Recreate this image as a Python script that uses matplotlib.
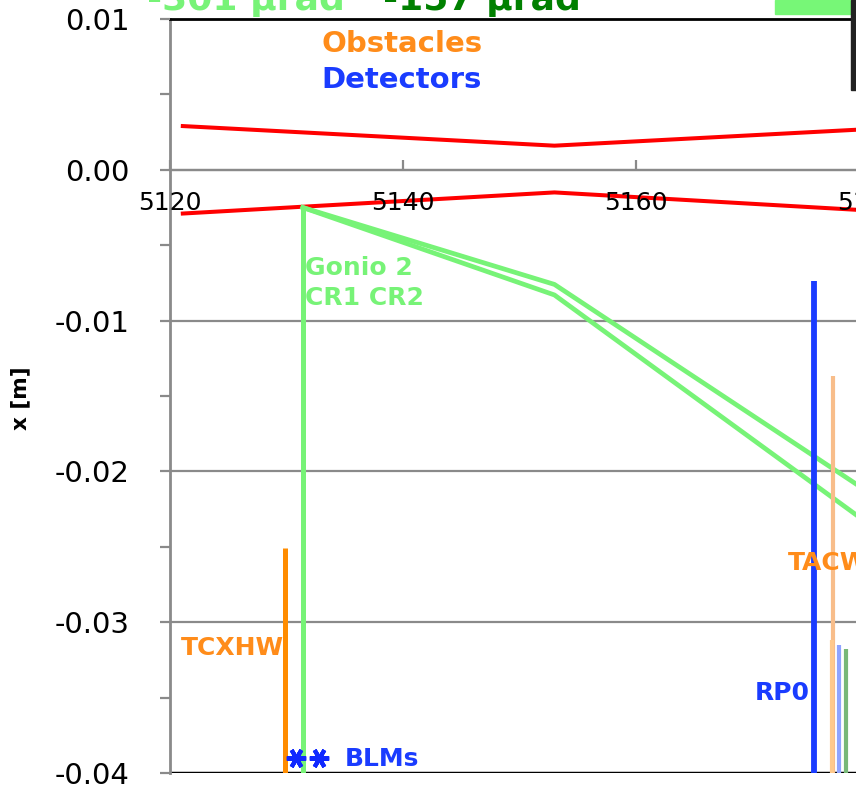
import numpy as np
import matplotlib.pyplot as plt
from matplotlib.patches import Rectangle

# beam envelope (red)
env_s = [5121.1, 5153.0, 5180.0]
env_up = [0.0029, 0.0016, 0.0027]
env_lo = [-0.0029, -0.0015, -0.0027]

# channeled beams from Gonio 2 (CR1, CR2)
cr_s = [5131.4, 5153.0, 5180.0]
cr1_x = [-0.0025, -0.0076, -0.0214]
cr2_x = [-0.0025, -0.0083, -0.0235]

# vertical markers: position, top, colour
bar_s = [5129.9, 5131.4, 5175.3, 5176.9, 5176.8, 5177.4, 5178.0]
bar_top = [-0.0251, -0.0025, -0.0074, -0.0137, -0.0312, -0.0315, -0.0318]
bar_col = ['#ff8c00', '#77f377', '#1a3cff', '#f8bd8a', '#ffc98c', '#8fa3ff', '#78b878']
bar_lw = [3.6, 3.6, 4.2, 3.0, 3.0, 3.0, 3.0]

blm_s = [5130.8, 5132.8]
blm_x = [-0.039, -0.039]

yticks = [0.01, 0.00, -0.01, -0.02, -0.03, -0.04]
xticks = [5120, 5140, 5160, 5180]

ORANGE = '#ff8c1a'
BLUE = '#1a3cff'
LGREEN = '#77f377'

fig = plt.figure(figsize=(8.56, 7.86), dpi=100)
ax = fig.add_axes([170/856, 13/786, 700/856, 754/786])
ax.set_xlim(5120, 5180.09)
ax.set_ylim(-0.04, 0.01)

# grid
for y in yticks[1:-1]:
    ax.axhline(y, color='#8a8a8a', lw=1.6, zorder=0.5)
ax.axhline(-0.04, color='black', lw=2.5, zorder=1)

ax.plot(env_s, env_up, color='red', lw=2.9, zorder=2)
ax.plot(env_s, env_lo, color='red', lw=2.9, zorder=2)
ax.plot(cr_s, cr1_x, color=LGREEN, lw=3.4, zorder=2)
ax.plot(cr_s, cr2_x, color=LGREEN, lw=3.4, zorder=2)
for s, t, c, w in zip(bar_s, bar_top, bar_col, bar_lw):
    ax.vlines(s, -0.04, t, color=c, lw=w, zorder=2.2)
ax.plot(blm_s, blm_x, ls='none', marker=(6, 2, 90), ms=14, mew=3,
        color='#1028ff', zorder=3)

# text labels
bold = dict(fontweight='bold', fontsize=18, va='center', ha='left')
ax.text(5133.0, 0.00834, 'Obstacles', color=ORANGE, fontsize=21,
        fontweight='bold', va='center', ha='left')
ax.text(5133.0, 0.00596, 'Detectors', color=BLUE, fontsize=21,
        fontweight='bold', va='center', ha='left')
ax.text(5131.6, -0.0065, 'Gonio 2', color=LGREEN, **bold)
ax.text(5131.6, -0.0085, 'CR1 CR2', color=LGREEN, **bold)
ax.text(5120.9, -0.0317, 'TCXHW', color=ORANGE, **bold)
ax.text(5173.0, -0.0261, 'TACW', color=ORANGE, **bold)
ax.text(5170.2, -0.0347, 'RP0', color=BLUE, **bold)
ax.text(5135.0, -0.0391, 'BLMs', color=BLUE, **bold)

# axes styling
ax.set_axisbelow(False)
ax.spines['right'].set_visible(False)
ax.spines['top'].set_color('black')
ax.spines['top'].set_linewidth(2)
ax.spines['left'].set_color('#8a8a8a')
ax.spines['left'].set_linewidth(2)
ax.spines['bottom'].set_position(('data', 0))
ax.spines['bottom'].set_color('#8a8a8a')
ax.spines['bottom'].set_linewidth(1.6)

ax.set_yticks(yticks)
ax.set_yticklabels([f'{v:.2f}' for v in yticks])
ax.set_yticks(np.arange(-0.035, 0.01, 0.01), minor=True)
ax.tick_params(axis='y', which='major', direction='out', length=7, width=1.6,
               color='#8a8a8a', labelsize=21, pad=22)
ax.tick_params(axis='y', which='minor', direction='out', length=7, width=1.6,
               color='#8a8a8a')
ax.set_xticks(xticks)
ax.set_xticklabels([str(v) for v in xticks])
ax.tick_params(axis='x', direction='in', length=7, width=1.6,
               color='#8a8a8a', labelsize=18, pad=15)

fig.text(20/856, 1 - 398/786, 'x [m]', rotation=90, fontsize=15.5,
         fontweight='bold', ha='center', va='center')

# header pieces cut off at the top
fig.text(345/856, 1 - 10/786, '-301 µrad', color=LGREEN, fontsize=26,
         fontweight='bold', ha='right', va='baseline')
fig.text(383/856, 1 - 10/786, '-157 µrad', color='#008000', fontsize=26,
         fontweight='bold', ha='left', va='baseline')
fig.patches.append(Rectangle((775/856, 1 - 14/786), 76/856, 14/786,
                             transform=fig.transFigure, color='#77f777'))
fig.patches.append(Rectangle((851/856, 1 - 90/786), 5/856, 90/786,
                             transform=fig.transFigure, color='#222222'))

fig.savefig('out.png', dpi=100)
